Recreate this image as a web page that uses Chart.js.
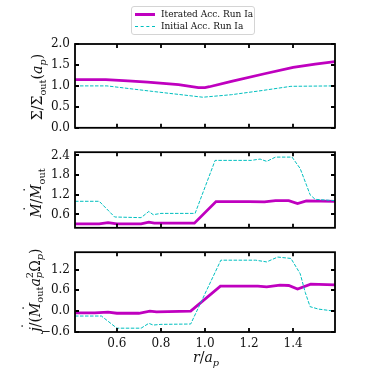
<!DOCTYPE html>
<html>
<head>
<meta charset="utf-8">
<script src="https://cdn.jsdelivr.net/npm/chart.js@4"></script>
<style>
  body { margin: 0; background: #fff; }
  #wrap { position: relative; width: 374px; height: 374px; overflow: hidden; font-family: 'DejaVu Serif', serif; color: #111; }
  canvas { position: absolute; left: 0; }
  .ylab, .xlab { position: absolute; white-space: nowrap; font-size: 14px; line-height: 1; }
  .ylab { transform: translate(-50%, -50%) rotate(-90deg); }
  .xlab { transform: translate(-50%, 0); }
  sub, sup { font-size: 0.7em; line-height: 0; }
  .ss { display: inline-block; vertical-align: -0.25em; font-size: 0.7em; line-height: 0.95; text-align: left; }
  .ss span { display: block; }
  .dt { position: relative; display: inline-block; }
  .dt::after { content: '\02D9'; position: absolute; left: 0.4em; top: -0.42em; font-style: normal; }
  .dt.j::after { left: 0.14em; top: -0.5em; }
  #legend { position: absolute; left: 131px; top: 6px; width: 122px; height: 27px; border: 1px solid #d4d4d4; border-radius: 3px; font-size: 9px; }
  .item { position: absolute; left: 3px; height: 11px; line-height: 11px; }
  .sample { display: inline-block; width: 20px; vertical-align: middle; margin-right: 6px; }
</style>
</head>
<body>
<div id="wrap">
  <canvas id="c1" width="374" height="140" style="top:0"></canvas>
  <canvas id="c2" width="374" height="100" style="top:140px"></canvas>
  <canvas id="c3" width="374" height="134" style="top:240px"></canvas>
  <div id="legend">
    <div class="item" style="top:2px"><span class="sample" style="border-top:3px solid #bf00bf"></span>Iterated Acc. Run Ia</div>
    <div class="item" style="top:14px"><span class="sample" style="border-top:1px dashed #00bfbf"></span>Initial Acc. Run Ia</div>
  </div>
  <div class="ylab" style="left:37px; top:87px">Σ/Σ<sub>out</sub>(<i>a</i><sub><i>p</i></sub>)</div>
  <div class="ylab" style="left:36px; top:193px"><i class="dt">M</i>/<i class="dt">M</i><sub>out</sub></div>
  <div class="ylab" style="left:34px; top:290px"><i class="dt j">j</i>/(<i class="dt">M</i><sub>out</sub><i>a</i><span class="ss"><span>2</span><span><i>p</i></span></span>Ω<sub><i>p</i></sub>)</div>
  <div class="xlab" style="left:206px; top:350px"><i>r</i>/<i>a</i><sub><i>p</i></sub></div>
</div>
<script>
// radius grid and values
const xTicks = [0.6, 0.8, 1.0, 1.2, 1.4];

const rSigIter = [0.41, 0.55, 0.65, 0.74, 0.88, 0.97, 1.00, 1.02, 1.12, 1.27, 1.40, 1.50, 1.59];
const sigIter  = [1.15, 1.15, 1.12, 1.09, 1.03, 0.96, 0.96, 0.98, 1.11, 1.29, 1.44, 1.52, 1.58];
const rSigInit = [0.41, 0.555, 0.76, 0.99, 1.12, 1.26, 1.39, 1.59];
const sigInit  = [1.00, 1.00, 0.87, 0.73, 0.79, 0.89, 0.99, 1.00];
const sigTicks = [0.0, 0.5, 1.0, 1.5, 2.0];

const rMdotIter = [0.41, 0.52, 0.56, 0.60, 0.71, 0.745, 0.77, 0.952, 1.05, 1.20, 1.27, 1.32, 1.38, 1.42, 1.46, 1.59];
const mdotIter  = [0.31, 0.31, 0.35, 0.31, 0.31, 0.36, 0.33, 0.33, 0.99, 0.99, 0.98, 1.02, 1.02, 0.93, 1.01, 1.00];
const rMdotInit = [0.41, 0.52, 0.59, 0.71, 0.745, 0.765, 0.80, 0.955, 1.046, 1.21, 1.25, 1.28, 1.32, 1.395, 1.432, 1.462, 1.477, 1.50, 1.59];
const mdotInit  = [1.00, 1.00, 0.52, 0.50, 0.69, 0.59, 0.63, 0.63, 2.25, 2.25, 2.29, 2.22, 2.35, 2.35, 2.00, 1.47, 1.20, 1.06, 1.02];
const mdotTicks = [0.6, 1.2, 1.8, 2.4];

const rJIter = [0.41, 0.50, 0.56, 0.60, 0.70, 0.75, 0.78, 0.935, 1.07, 1.24, 1.28, 1.34, 1.38, 1.42, 1.48, 1.59];
const jIter  = [-0.05, -0.05, -0.03, -0.06, -0.06, 0.00, -0.02, 0.00, 0.72, 0.72, 0.70, 0.75, 0.74, 0.64, 0.78, 0.76];
const rJInit = [0.41, 0.53, 0.60, 0.71, 0.745, 0.765, 0.80, 0.935, 1.072, 1.23, 1.28, 1.33, 1.39, 1.432, 1.455, 1.477, 1.515, 1.59];
const jInit  = [-0.14, -0.14, -0.49, -0.49, -0.35, -0.40, -0.38, -0.37, 1.47, 1.47, 1.42, 1.56, 1.52, 1.08, 0.54, 0.13, 0.06, 0.00];
const jTicks = [-0.6, 0.0, 0.6, 1.2];

const MAGENTA = '#bf00bf';
const CYAN = '#00bfbf';

function pts(r, v) { return r.map((x, i) => ({ x: x, y: v[i] })); }

// axes frame with inward ticks on every side
const framePlugin = {
  id: 'frame',
  afterDraw(chart) {
    const { ctx, chartArea: a } = chart;
    const x = chart.scales.x, y = chart.scales.y;
    ctx.save();
    ctx.strokeStyle = '#000';
    ctx.lineWidth = 1.8;
    ctx.strokeRect(a.left, a.top, a.right - a.left, a.bottom - a.top);
    ctx.beginPath();
    x.ticks.forEach(t => {
      const px = Math.round(x.getPixelForValue(t.value));
      ctx.moveTo(px, a.bottom); ctx.lineTo(px, a.bottom - 4);
      ctx.moveTo(px, a.top); ctx.lineTo(px, a.top + 4);
    });
    y.ticks.forEach(t => {
      const py = Math.round(y.getPixelForValue(t.value));
      ctx.moveTo(a.left, py); ctx.lineTo(a.left + 4, py);
      ctx.moveTo(a.right, py); ctx.lineTo(a.right - 4, py);
    });
    ctx.stroke();
    ctx.restore();
  }
};

function fmt(v) {
  const s = Number(v).toFixed(1);
  return v < 0 ? '\u2212' + s.slice(1) : s;
}

function panel(id, iter, init, yMin, yMax, yTicks, pad, showX) {
  new Chart(document.getElementById(id), {
    type: 'line',
    data: {
      datasets: [
        { data: iter, borderColor: MAGENTA, borderWidth: 2.8, pointRadius: 0, tension: 0, order: 2 },
        { data: init, borderColor: CYAN, borderWidth: 1, borderDash: [3.5, 1.5], pointRadius: 0, tension: 0, order: 1 }
      ]
    },
    options: {
      responsive: false,
      animation: false,
      events: [],
      layout: { padding: pad },
      plugins: { legend: { display: false }, tooltip: { enabled: false } },
      scales: {
        x: {
          type: 'linear',
          min: 0.41,
          max: 1.59,
          afterBuildTicks: s => { s.ticks = xTicks.map(v => ({ value: v })); },
          afterFit: s => { s.height = showX ? 42 : 0; },
          grid: { display: false, drawTicks: false },
          border: { display: false },
          ticks: {
            display: showX,
            padding: 5,
            maxRotation: 0,
            color: '#111',
            font: { family: 'DejaVu Serif', size: 12 },
            callback: v => fmt(v)
          }
        },
        y: {
          min: yMin,
          max: yMax,
          afterBuildTicks: s => { s.ticks = yTicks.map(v => ({ value: v })); },
          afterFit: s => { s.width = 60; },
          grid: { display: false, drawTicks: false },
          border: { display: false },
          ticks: {
            padding: 5,
            color: '#111',
            font: { family: 'DejaVu Serif', size: 12 },
            callback: v => fmt(v)
          }
        }
      }
    },
    plugins: [framePlugin]
  });
}

panel('c1', pts(rSigIter, sigIter), pts(rSigInit, sigInit), 0, 2.0, sigTicks,
  { left: 15, right: 39, top: 44, bottom: 11 }, false);
panel('c2', pts(rMdotIter, mdotIter), pts(rMdotInit, mdotInit), 0.19, 2.5, mdotTicks,
  { left: 15, right: 39, top: 5, bottom: 9 }, false);
panel('c3', pts(rJIter, jIter), pts(rJInit, jInit), -0.6, 1.7, jTicks,
  { left: 15, right: 39, top: 7, bottom: 0 }, true);
</script>
</body>
</html>
